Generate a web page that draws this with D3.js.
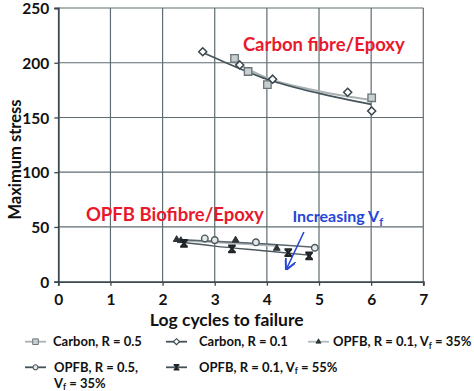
<!DOCTYPE html>
<html><head><meta charset="utf-8">
<script src="https://cdn.jsdelivr.net/npm/d3@7"></script>
<style>body{margin:0;background:#fff}svg{display:block}text{font-family:Lato,"Open Sans",sans-serif;font-weight:bold}</style>
</head><body>
<svg id="c" width="474" height="391"></svg>
<script>
// ---- data ----
const xTicks = [0,1,2,3,4,5,6,7];
const yTicks = [0,50,100,150,200,250];
const carbonR05X = [3.38, 3.64, 4.01, 6.01];
const carbonR05Y = [204, 192, 180, 168];
const carbonR01X = [2.77, 3.48, 4.11, 5.55, 6.01];
const carbonR01Y = [210, 198, 185, 173, 156];
const opfbR05Vf35X = [2.81, 3.0, 3.79, 4.92];
const opfbR05Vf35Y = [39.5, 38, 36, 31];
const opfbR01Vf35X = [2.27, 2.35, 3.40, 4.19];
const opfbR01Vf35Y = [38.5, 37.5, 38, 30.5];
const opfbR01Vf55X = [2.41, 3.33, 4.41, 4.81];
const opfbR01Vf55Y = [35, 30, 26.5, 23.5];
// trend lines
const carbonR01TrendX = [2.77, 3, 4, 5, 6];
const carbonR01TrendY = [209.3, 204.5, 185, 172, 162];
const carbonR05TrendX = [3.38, 4, 5, 6];
const carbonR05TrendY = [200.5, 186, 174, 166];
const opfbR05TrendX = [2.25, 3, 4, 4.92];
const opfbR05TrendY = [38.5, 37, 34.5, 31.5];
const opfbR01Vf35TrendX = [2.25, 3, 4, 4.2];
const opfbR01Vf35TrendY = [38, 36.2, 33.4, 32.8];
const opfbR01Vf55TrendX = [2.3, 3, 4, 4.85];
const opfbR01Vf55TrendY = [36.5, 32.5, 28, 24];
const legendLabels = ["Carbon, R = 0.5", "Carbon, R = 0.1", "OPFB, R = 0.1, V", "OPFB, R = 0.5,", "OPFB, R = 0.1, V"];

const svg = d3.select("#c");
const x = d3.scaleLinear().domain([0,7]).range([58.3,423.3]);
const y = d3.scaleLinear().domain([0,250]).range([281.7,8]);
const axisCol = "#3b484e", gridCol = "#5f6c72";

// grid
svg.append("g").selectAll("line.v").data(xTicks.slice(1)).join("line")
  .attr("x1",d=>x(d)).attr("x2",d=>x(d)).attr("y1",y(0)).attr("y2",y(250))
  .attr("stroke",gridCol).attr("stroke-width",1.2);
svg.append("g").selectAll("line.h").data(yTicks.slice(1)).join("line")
  .attr("x1",x(0)).attr("x2",x(7)).attr("y1",d=>y(d)).attr("y2",d=>y(d))
  .attr("stroke",gridCol).attr("stroke-width",1.2);

// axes
const xa = svg.append("g").attr("transform",`translate(0,${y(0)})`)
  .call(d3.axisBottom(x).tickValues(xTicks).tickSize(4).tickPadding(8).tickFormat(d3.format("d")));
const ya = svg.append("g").attr("transform",`translate(${x(0)},0)`)
  .call(d3.axisLeft(y).tickValues(yTicks).tickSize(4).tickPadding(5).tickFormat(d3.format("d")));
[xa,ya].forEach(a=>{
  a.select(".domain").attr("stroke",axisCol).attr("stroke-width",1.8);
  a.selectAll(".tick line").attr("stroke",axisCol).attr("stroke-width",1.3);
  a.selectAll(".tick text").attr("fill","#111").style("font-size","15.5px").style("font-family","Lato").style("font-weight","bold");
});
ya.selectAll(".tick text").attr("dy","0.36em");

// titles
svg.append("text").attr("x",226.7).attr("y",326).attr("text-anchor","middle")
  .style("font-size","17.5px").attr("fill","#111").text("Log cycles to failure");
svg.append("text").attr("transform","translate(21,159.5) rotate(-90)").attr("text-anchor","middle")
  .style("font-size","16.5px").attr("fill","#111").text("Maximum stress");

// trend lines
const line = d3.line().x(d=>x(d[0])).y(d=>y(d[1])).curve(d3.curveMonotoneX);
const zip = (a,b)=>a.map((v,i)=>[v,b[i]]);
const trends = [
  [carbonR05TrendX, carbonR05TrendY, "#a9b1b2", 2.2],
  [carbonR01TrendX, carbonR01TrendY, "#44525a", 1.6],
  [opfbR01Vf35TrendX, opfbR01Vf35TrendY, "#b3babb", 2.2],
  [opfbR05TrendX, opfbR05TrendY, "#59666c", 1.4],
  [opfbR01Vf55TrendX, opfbR01Vf55TrendY, "#4c585e", 1.4],
];
trends.forEach(t=>svg.append("path").attr("d",line(zip(t[0],t[1])))
  .attr("fill","none").attr("stroke",t[2]).attr("stroke-width",t[3]));

// markers
const sq = d3.symbol(d3.symbolSquare, 56)();
const dia = "M0,-4L4,0L0,4L-4,0Z";
const tri = d3.symbol(d3.symbolTriangle, 20)();
const circ = d3.symbol(d3.symbolCircle, 34)();
const xmark = "M-3.8,-3.3L3.8,-3.3M-3.8,3.3L3.8,3.3M-2.8,-3.3L2.8,3.3M2.8,-3.3L-2.8,3.3";
function drawMarker(g, type){
  if(type==="sq") g.append("path").attr("d",sq).attr("fill","#c8cfd0").attr("stroke","#6a7479").attr("stroke-width",1.3);
  if(type==="dia") g.append("path").attr("d",dia).attr("fill","#fff").attr("stroke","#37444a").attr("stroke-width",1.5);
  if(type==="tri") g.append("path").attr("d",tri).attr("fill","#2d3437").attr("stroke","#2d3437").attr("stroke-width",1);
  if(type==="circ") g.append("path").attr("d",circ).attr("fill","#e4e8e8").attr("stroke","#4a565c").attr("stroke-width",1.4);
  if(type==="x") g.append("path").attr("d",xmark).attr("fill","none").attr("stroke","#1e2326").attr("stroke-width",2.2);
}
const series = [
  [carbonR05X, carbonR05Y, "sq"],
  [carbonR01X, carbonR01Y, "dia"],
  [opfbR01Vf35X, opfbR01Vf35Y, "tri"],
  [opfbR05Vf35X, opfbR05Vf35Y, "circ"],
  [opfbR01Vf55X, opfbR01Vf55Y, "x"],
];
series.forEach(s=>{
  s[0].forEach((v,i)=>{
    const g = svg.append("g").attr("transform",`translate(${x(v)},${y(s[1][i])})`);
    drawMarker(g, s[2]);
  });
});

// annotations
svg.append("text").attr("x",x(3.54)).attr("y",y(211)).attr("fill","#e8192c")
  .style("font-size","18.5px").text("Carbon fibre/Epoxy");
svg.append("text").attr("x",x(0.53)).attr("y",y(55.8)).attr("fill","#e8192c")
  .style("font-size","18.5px").text("OPFB Biofibre/Epoxy");
const inc = svg.append("text").attr("x",x(4.49)).attr("y",y(54.8)).attr("fill","#2746d6").style("font-size","16px");
inc.append("tspan").text("Increasing V");
inc.append("tspan").attr("dy",4).style("font-size","11px").text("f");
// arrow
svg.append("defs").append("marker").attr("id","ah").attr("viewBox","0 0 10 10").attr("refX",8).attr("refY",5)
  .attr("markerWidth",7).attr("markerHeight",7).attr("orient","auto")
  .append("path").attr("d","M0,0L10,5L0,10").attr("fill","none").attr("stroke","#2746d6").attr("stroke-width",1.8);
svg.append("line").attr("x1",x(4.71)).attr("y1",y(45.4)).attr("x2",x(4.385)).attr("y2",y(12.5))
  .attr("stroke","#2746d6").attr("stroke-width",1.6).attr("marker-end","url(#ah)");

// legend
const legPos = [[25,341.7],[166,341.7],[308,341.7],[25,367.3],[166,367.3]];
const legLine = ["#a9b1b2","#44525a","#b3babb","#44525a","#44525a"];
const legTextX = [53,199,333,54,199];
const legTypes = ["sq","dia","tri","circ","x"];
const fs = "13px";
legendLabels.forEach((lab,i)=>{
  const [lx,ly] = legPos[i];
  svg.append("line").attr("x1",lx).attr("x2",lx+21).attr("y1",ly).attr("y2",ly)
    .attr("stroke",legLine[i]).attr("stroke-width",1.8);
  const g = svg.append("g").attr("transform",`translate(${lx+10.5},${ly}) scale(0.75)`);
  drawMarker(g, legTypes[i]);
  const t = svg.append("text").attr("x",legTextX[i]).attr("y",ly+4.5).style("font-size",fs).attr("fill","#111");
  t.append("tspan").text(lab);
  if(i===2 || i===4){
    t.append("tspan").attr("dy",2.5).style("font-size","8.5px").text("f");
    t.append("tspan").attr("dy",-2.5).text(i===2?" = 35%":" = 55%");
  }
  if(i===3){
    const t2 = svg.append("text").attr("x",54).attr("y",387.5).style("font-size",fs).attr("fill","#111");
    t2.append("tspan").text("V");
    t2.append("tspan").attr("dy",2.5).style("font-size","8.5px").text("f");
    t2.append("tspan").attr("dy",-2.5).text(" = 35%");
  }
});
</script>
</body></html>
